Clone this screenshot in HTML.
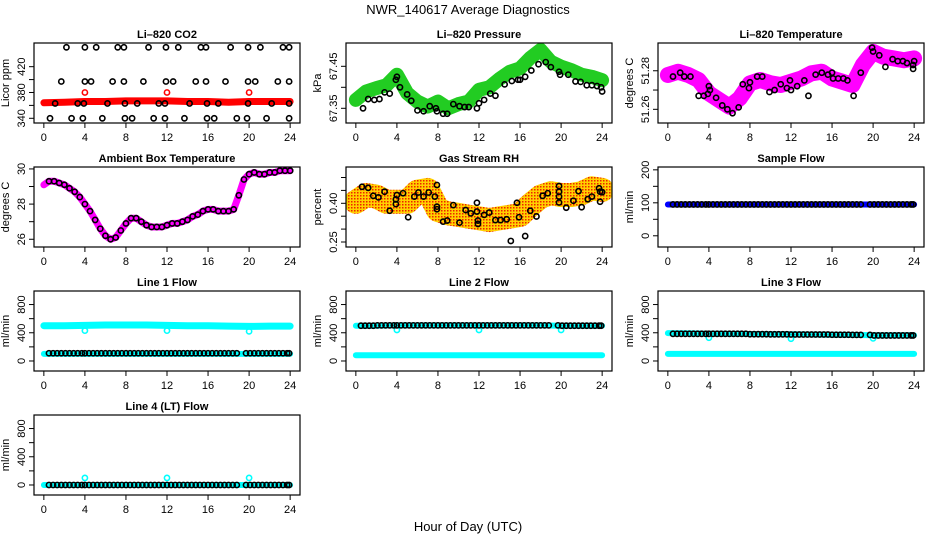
<!DOCTYPE html>
<html><head><meta charset="utf-8">
<style>
html,body{margin:0;padding:0;background:#fff;}
svg{display:block;font-family:"Liberation Sans",Arial,sans-serif;}
</style></head>
<body>
<svg id="c" width="936" height="540" viewBox="0 0 936 540" xmlns="http://www.w3.org/2000/svg">
<text x="468" y="14" text-anchor="middle" font-size="13">NWR_140617  Average Diagnostics</text>
<text x="468" y="531" text-anchor="middle" font-size="13">Hour of Day (UTC)</text>
</svg>
<script>
// ---- data ----
const xTicks = [0,4,8,12,16,20,24];
const bandHours = [0,2,4,6,8,10,12,14,16,18,20,22,24];
const halfHours = [0,0.5,1,1.5,2,2.5,3,3.5,4,4.5,5,5.5,6,6.5,7,7.5,8,8.5,9,9.5,10,10.5,11,11.5,12,12.5,13,13.5,14,14.5,15,15.5,16,16.5,17,17.5,18,18.5,19,19.5,20,20.5,21,21.5,22,22.5,23,23.5,24];
const hourly = [0,1,2,3,4,5,6,7,8,9,10,11,12,13,14,15,16,17,18,19,20,21,22,23,24];
const flowTimes = [0.5,0.9,1.3,1.7,2.1,2.5,2.9,3.3,3.7,4.0,4.4,4.8,5.2,5.6,6.0,6.4,6.8,7.2,7.6,8.0,8.4,8.8,9.2,9.6,10.0,10.4,10.8,11.2,11.6,12.0,12.4,12.8,13.2,13.6,14.0,14.4,14.8,15.2,15.6,16.0,16.4,16.8,17.2,17.6,18.0,18.4,18.8,19.7,20.1,20.5,20.9,21.3,21.7,22.1,22.5,22.9,23.3,23.7,23.9];
const dipHours = [4,12,20];

// CO2
const co2Red = [364,365,366,366,367,367,367,366,366,365,366,366,366];
const co2RedOut = [380,380,380];
const co2TopT = [2.2,4.0,5.1,7.2,7.8,10.2,11.9,13.1,15.3,15.8,18.2,19.9,21.1,23.3,23.9];
const co2TopV = [450,450,450,450,450,450,450,450,450,450,450,450,450,450,450];
const co2HiT = [1.7,4.0,4.6,6.7,7.8,9.7,11.9,12.6,14.8,15.8,17.7,19.9,20.6,22.8,23.9];
const co2HiV = [397,397,397,397,397,397,397,397,397,397,397,397,397,397,397];
const co2MidT = [1.1,3.3,3.9,6.2,7.9,9.1,11.2,11.8,14.2,15.9,17.0,19.9,22.2,23.9];
const co2MidV = [363,363,363,363,363,363,363,363,363,363,363,363,363,363];
const co2LowT = [0.6,2.7,3.8,5.7,7.9,8.6,10.7,11.8,13.7,15.9,16.6,18.8,19.8,21.7,23.9];
const co2LowV = [340,340,340,340,340,340,340,340,340,340,340,340,340,340,340];

// Pressure
const presBand = [67.37,67.39,67.398,67.405,67.43,67.386,67.366,67.354,67.366,67.35,67.36,67.366,67.394,67.40,67.42,67.437,67.445,67.47,67.489,67.461,67.449,67.441,67.43,67.425,67.417];
const presT = [0.7,1.2,1.8,2.3,2.8,3.3,3.9,4.0,4.3,5.0,5.4,6.0,6.6,7.2,7.8,7.9,8.5,8.9,9.5,10.1,10.6,11.0,11.8,12.0,12.5,13.1,13.6,14.5,15.2,15.8,16.0,16.5,17.1,17.8,18.5,19.0,19.8,19.9,20.7,21.4,21.9,22.5,23.0,23.5,23.9,24.0];
const presV = [67.35,67.372,67.37,67.372,67.388,67.385,67.418,67.425,67.40,67.383,67.368,67.345,67.343,67.355,67.35,67.343,67.337,67.337,67.36,67.355,67.353,67.353,67.35,67.362,67.37,67.385,67.38,67.407,67.415,67.418,67.418,67.425,67.44,67.455,67.46,67.448,67.437,67.43,67.43,67.414,67.413,67.405,67.405,67.403,67.40,67.39];

// Li-820 temperature
const tempBand = [51.2778,51.2795,51.2778,51.2752,51.2683,51.2648,51.2614,51.2657,51.2735,51.2752,51.2735,51.2726,51.2743,51.276,51.2787,51.2795,51.276,51.2743,51.2726,51.283,51.2898,51.2873,51.2864,51.2855,51.2864];
const tempT = [0.5,1.2,1.6,2.2,3.0,3.5,3.9,4.0,4.1,4.7,5.3,5.8,6.3,6.9,7.3,7.9,8.0,8.7,9.2,9.9,10.4,11.0,11.6,11.9,12.0,12.6,13.3,13.7,14.4,15.0,15.6,16.0,16.1,16.6,17.1,17.5,18.1,18.8,19.9,20.0,20.6,21.2,21.9,22.4,22.9,23.3,23.9,24.0,23.9];
const tempV = [51.277,51.279,51.277,51.277,51.267,51.267,51.268,51.272,51.270,51.266,51.262,51.260,51.258,51.261,51.273,51.271,51.274,51.277,51.277,51.269,51.270,51.273,51.271,51.275,51.270,51.272,51.275,51.267,51.278,51.279,51.278,51.279,51.276,51.276,51.276,51.275,51.267,51.279,51.292,51.290,51.288,51.282,51.286,51.285,51.285,51.284,51.283,51.285,51.281];

// Ambient box temperature
const ambBand = [29.1,29.3,29.3,29.2,29.1,28.9,28.7,28.4,28.0,27.6,27.1,26.6,26.2,26.0,26.1,26.5,26.9,27.2,27.2,27.0,26.8,26.7,26.7,26.7,26.8,26.9,26.9,27.0,27.1,27.3,27.4,27.6,27.7,27.7,27.6,27.6,27.6,27.7,28.5,29.4,29.7,29.8,29.7,29.7,29.8,29.8,29.9,29.9,29.9];

// Gas stream RH
const rhBand = [0.406,0.432,0.426,0.406,0.406,0.406,0.445,0.452,0.374,0.361,0.355,0.348,0.342,0.335,0.342,0.348,0.355,0.393,0.426,0.439,0.432,0.432,0.439,0.458,0.452];
const rhT = [0.6,1.2,1.7,2.2,2.8,3.3,3.9,3.9,4.0,4.6,5.1,5.7,6.1,6.6,7.1,7.7,7.9,7.9,7.9,8.5,8.9,9.5,10.1,10.7,11.2,11.8,11.8,11.9,11.9,12.5,13.0,13.6,14.1,14.7,15.1,15.7,15.9,16.5,17.0,17.6,18.2,18.7,19.8,19.8,19.8,19.8,20.5,21.2,21.7,22.0,22.6,23.0,23.7,23.8,23.8,24.0];
const rhV = [0.464,0.46,0.429,0.423,0.445,0.371,0.415,0.397,0.432,0.439,0.346,0.426,0.442,0.426,0.442,0.426,0.377,0.471,0.387,0.329,0.333,0.393,0.325,0.374,0.361,0.402,0.368,0.32,0.333,0.355,0.364,0.335,0.335,0.338,0.254,0.402,0.346,0.273,0.371,0.349,0.429,0.439,0.445,0.467,0.426,0.403,0.383,0.41,0.447,0.385,0.416,0.426,0.458,0.445,0.406,0.443];

// Flows (block values per 2 h for black points, band values every 2 h)
const sampleBand = [95,95,95,95,95,95,95,95,95,95,95,95,95];
const sampleBlack = [95,95,95,95,95,95,95,95,95,95,95,95];
const line1Upper = [500,500,505,510,510,510,505,500,500,495,490,495,495];
const line1Dips = [430,430,420];
const line1Lower = [100,100,100,100,100,100,100,100,100,100,100,100,100];
const line1Black = [110,110,110,110,110,110,110,110,110,110,110,110];
const line2Upper = [500,500,505,505,505,505,505,505,505,505,500,500,500];
const line2Dips = [440,440,440];
const line2Lower = [80,80,80,80,80,80,80,80,80,80,80,80,80];
const line2Black = [500,505,505,505,505,505,505,505,505,505,500,500];
const line3Upper = [395,392,388,385,382,380,378,375,372,370,365,365,365];
const line3Dips = [330,315,320];
const line3Lower = [100,100,100,100,100,100,100,100,100,100,100,100,100];
const line3Black = [385,385,385,385,380,378,375,375,372,370,362,362];
const line4Band = [0,0,0,0,0,0,0,0,0,0,0,0,0];
const line4Spikes = [100,100,100];
const line4Black = [0,0,0,0,0,0,0,0,0,0,0,0];

// ---- drawing ----
const svg = document.getElementById('c');
const NS = 'http://www.w3.org/2000/svg';
const colLeft = [34,346,658], boxW = 266, rowTop = [43,167,291,415], boxH = 80;
function mk(tag, attrs, parent){const e=document.createElementNS(NS,tag);for(const k in attrs)e.setAttribute(k,attrs[k]);(parent||svg).appendChild(e);return e;}

function makePanel(col,row,ymin,ymax,ticks,labeled,title,ylab,name){
  const L=colLeft[col], T=rowTop[row];
  const g=mk('g',{});
  
  
  const p={g,L,T,
    sx:t=>L+boxW*0.04/1.08+ (t/24)*(boxW/1.08),
    sy:v=>T+boxH-(v-ymin)/(ymax-ymin)*boxH};
  const tt=mk('text',{x:L+boxW/2,y:T-5,'text-anchor':'middle','font-size':11,'font-weight':'bold'},g);
  tt.textContent=title;
  
  
  // x axis
  const xa=mk('g',{},g);
  
  
  mk('line',{x1:p.sx(0),x2:p.sx(24),y1:T+boxH,y2:T+boxH,stroke:'#000'},xa);
  xTicks.forEach(t=>{
    mk('line',{x1:p.sx(t),x2:p.sx(t),y1:T+boxH,y2:T+boxH+5,stroke:'#000'},xa);
    const l=mk('text',{x:p.sx(t),y:T+boxH+18,'text-anchor':'middle','font-size':11},xa);l.textContent=t;
  });
  // y axis
  const ya=mk('g',{},g);
  
  
  ticks.forEach((v,i)=>{
    const y=p.sy(v);
    mk('line',{x1:L-5,x2:L,y1:y,y2:y,stroke:'#000'},ya);
    if(labeled[i]){const l=mk('text',{x:L-9,y:y,'text-anchor':'middle','font-size':11,transform:`rotate(-90 ${L-9} ${y})`},ya);l.textContent=labeled[i];}
  });
  const yl=mk('text',{x:L-25,y:T+boxH/2,'text-anchor':'middle','font-size':11,transform:`rotate(-90 ${L-25} ${T+boxH/2})`},g);
  yl.textContent=ylab;
  
  
  const clip=mk('clipPath',{id:'cl'+name},g);
  mk('rect',{x:L,y:T,width:boxW,height:boxH},clip);
  p.plot=mk('g',{'clip-path':`url(#cl${name})`},g);
  p.finish=()=>{const b=mk('rect',{x:L,y:T,width:boxW,height:boxH,fill:'none',stroke:'#000','stroke-width':1.2},g);
    
    };
  return p;
}
function band(p,ts,vs,color,w,name){
  const d=ts.map((t,i)=>(i?'L':'M')+p.sx(t).toFixed(1)+' '+p.sy(vs[i]).toFixed(1)).join(' ');
  const e=mk('path',{d,fill:'none',stroke:color,'stroke-width':w,'stroke-linecap':'round','stroke-linejoin':'round'},p.plot);
  
  
}
function pts(p,ts,vs,color,name,r,sw){
  const g=mk('g',{},p.plot);
  
  
  ts.forEach((t,i)=>{mk('circle',{cx:p.sx(t),cy:p.sy(vs[i]),r:r||2.6,fill:'none',stroke:color,'stroke-width':sw||1.6},g);});
}
function blockPts(p,vals,color,name){
  pts(p,flowTimes,flowTimes.map(t=>vals[Math.min(11,Math.floor(t/2))]),color,name);
}

// CO2
let p=makePanel(0,0,332.7,456.7,[340,360,380,400,420],['340','','380','','420'],'Li\u2013820 CO2','Licor ppm','co2');
band(p,bandHours,co2Red,'#ff0000',7,'co2-red-band');
pts(p,dipHours,co2RedOut,'#ff0000','co2-red-outliers');
pts(p,co2TopT,co2TopV,'#000','co2-black-top');
pts(p,co2HiT,co2HiV,'#000','co2-black-high');
pts(p,co2MidT,co2MidV,'#000','co2-black-mid');
pts(p,co2LowT,co2LowV,'#000','co2-black-low');
p.finish();

// Pressure
p=makePanel(1,0,67.315,67.5055,[67.35,67.40,67.45],['67.35','','67.45'],'Li\u2013820 Pressure','kPa','pressure');
band(p,hourly,presBand,'#22cc22',14,'pressure-green-band');
pts(p,presT,presV,'#000','pressure-black-points');
p.finish();

// Temperature
p=makePanel(2,0,51.2529,51.2944,[51.26,51.27,51.28],['51.26','','51.28'],'Li\u2013820 Temperature','degrees C','li820-temp');
band(p,hourly,tempBand,'#ff00ff',16,'li820-temp-magenta-band');
pts(p,tempT,tempV,'#000','li820-temp-black-points');
p.finish();

// Ambient
p=makePanel(0,1,25.56,30.11,[26,27,28,29,30],['26','','28','','30'],'Ambient Box Temperature','degrees C','ambient');
band(p,halfHours,ambBand,'#ff00ff',7,'ambient-magenta-band');
pts(p,halfHours.slice(1),ambBand.slice(1),'#000','ambient-black-points');
p.finish();

// RH
const defs=mk('defs',{});
const pat=mk('pattern',{id:'rhpat',width:3,height:3,patternUnits:'userSpaceOnUse'},defs);
mk('rect',{width:3,height:3,fill:'#ffd000'},pat);
mk('rect',{width:1.5,height:1.5,fill:'#ee2200'},pat);
p=makePanel(1,1,0.2306,0.5407,[0.25,0.30,0.35,0.40,0.45,0.50],['0.25','','','0.40','',''],'Gas Stream RH','percent','rh');
band(p,hourly,rhBand,'url(#rhpat)',24,'rh-orange-cloud');
pts(p,rhT,rhV,'#000','rh-black-points');
p.finish();

// Sample flow
p=makePanel(2,1,-34,208.6,[0,50,100,150,200],['0','','100','','200'],'Sample Flow','ml/min','sample-flow');
band(p,bandHours,sampleBand,'#0000ff',6,'sample-flow-blue-band');
blockPts(p,sampleBlack,'#000','sample-flow-black-points');
p.finish();

const fT=[0,200,400,600,800], fL=['0','','400','','800'];
// Line 1
p=makePanel(0,2,-142,992,fT,fL,'Line 1 Flow','ml/min','line1');
band(p,bandHours,line1Upper,'#00ffff',7,'line1-cyan-upper');
pts(p,dipHours,line1Dips,'#00ffff','line1-cyan-dips');
band(p,bandHours,line1Lower,'#00ffff',6,'line1-cyan-lower');
blockPts(p,line1Black,'#000','line1-black-points');
p.finish();

// Line 2
p=makePanel(1,2,-142,992,fT,fL,'Line 2 Flow','ml/min','line2');
band(p,bandHours,line2Upper,'#00ffff',6,'line2-cyan-upper');
pts(p,dipHours,line2Dips,'#00ffff','line2-cyan-dips');
band(p,bandHours,line2Lower,'#00ffff',6,'line2-cyan-lower');
blockPts(p,line2Black,'#000','line2-black-points');
p.finish();

// Line 3
p=makePanel(2,2,-142,992,fT,fL,'Line 3 Flow','ml/min','line3');
band(p,bandHours,line3Upper,'#00ffff',6,'line3-cyan-upper');
pts(p,dipHours,line3Dips,'#00ffff','line3-cyan-dips');
band(p,bandHours,line3Lower,'#00ffff',6,'line3-cyan-lower');
blockPts(p,line3Black,'#000','line3-black-points');
p.finish();

// Line 4
p=makePanel(0,3,-142,992,fT,fL,'Line 4 (LT) Flow','ml/min','line4');
band(p,bandHours,line4Band,'#00ffff',6,'line4-cyan-band');
pts(p,dipHours,line4Spikes,'#00ffff','line4-cyan-spikes');
blockPts(p,line4Black,'#000','line4-black-points');
p.finish();
</script>
</body></html>
